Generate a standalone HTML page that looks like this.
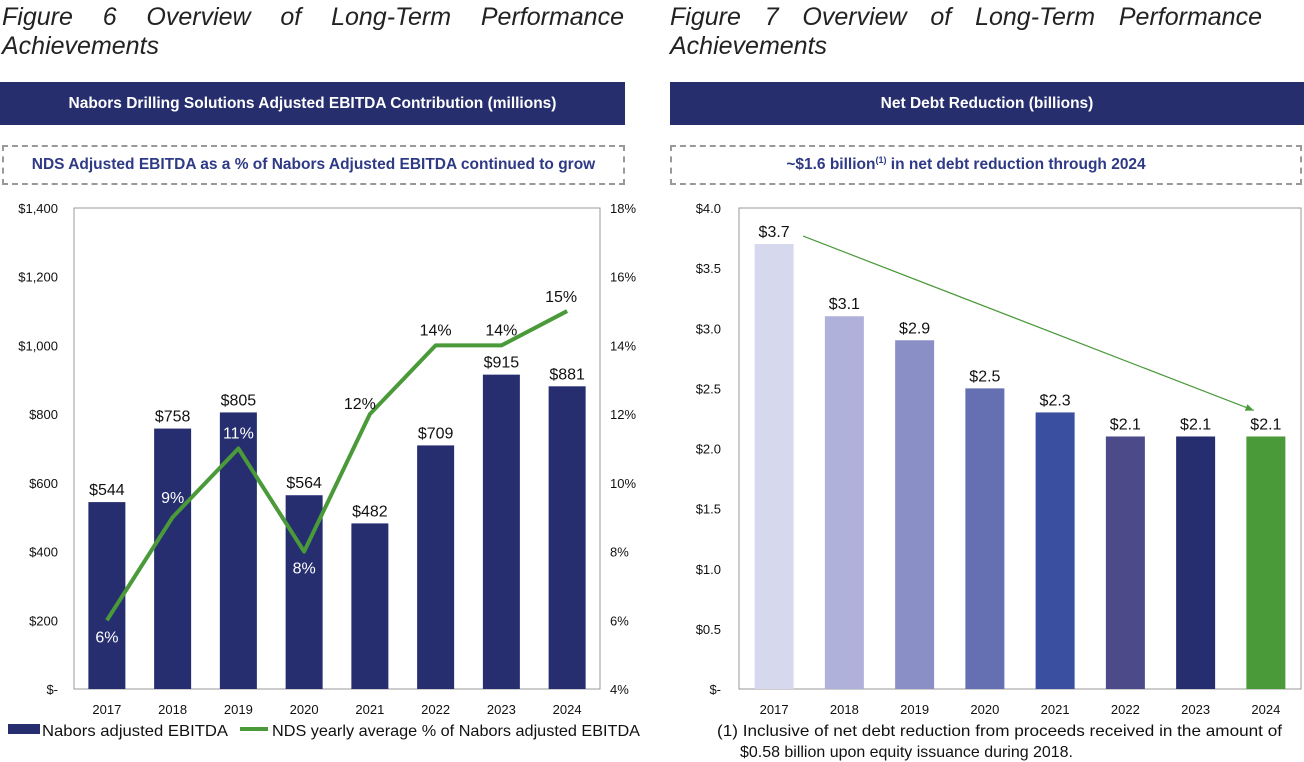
<!DOCTYPE html>
<html><head><meta charset="utf-8"><style>
body{margin:0;width:1304px;height:762px;background:#fff;font-family:"Liberation Sans",sans-serif;overflow:hidden;position:relative}
.title{position:absolute;font-style:italic;font-size:25px;color:#222;line-height:29px}
.l1{display:flex;justify-content:space-between}
.hdr{position:absolute;top:82px;height:43px;background:#262e6e;color:#fff;font-weight:bold;font-size:15.5px;display:flex;align-items:center;justify-content:center}
.dash{position:absolute;top:145px;height:40px;border:2px dashed #999;box-sizing:border-box;color:#2e3a86;font-weight:bold;font-size:15.5px;display:flex;align-items:center;justify-content:center}
svg{position:absolute;left:0;top:0}
</style></head><body>
<div class="title" style="left:2px;top:3px;width:622px"><div class="l1"><span>Figure</span><span>6</span><span>Overview</span><span>of</span><span>Long-Term</span><span>Performance</span></div><div>Achievements</div></div>
<div class="title" style="left:670px;top:3px;width:592px"><div class="l1"><span>Figure</span><span>7</span><span>Overview</span><span>of</span><span>Long-Term</span><span>Performance</span></div><div>Achievements</div></div>
<div class="hdr" style="left:0;width:625px">Nabors Drilling Solutions Adjusted EBITDA Contribution (millions)</div>
<div class="hdr" style="left:670px;width:634px">Net Debt Reduction (billions)</div>
<div class="dash" style="left:2px;width:623px">NDS Adjusted EBITDA as a % of Nabors Adjusted EBITDA continued to grow</div>
<div class="dash" style="left:670px;width:632px;padding-right:40px"><span>~$1.6 billion<span style="font-size:9px;position:relative;top:-6px">(1)</span> in net debt reduction through 2024</span></div>
<svg id="c" width="1304" height="762"></svg>
<script>
const years=["2017","2018","2019","2020","2021","2022","2023","2024"];
const ebitda=[544,758,805,564,482,709,915,881];
const pct=[6,9,11,8,12,14,14,15];
const leftTicks=[0,200,400,600,800,1000,1200,1400];
const leftTickLabels=["$-","$200","$400","$600","$800","$1,000","$1,200","$1,400"];
const pctTicks=[4,6,8,10,12,14,16,18];
const debt=[3.7,3.1,2.9,2.5,2.3,2.1,2.1,2.1];
const debtTicks=[0,0.5,1,1.5,2,2.5,3,3.5,4];
const debtTickLabels=["$-","$0.5","$1.0","$1.5","$2.0","$2.5","$3.0","$3.5","$4.0"];
const debtColors=["#d6d8ee","#b0b1da","#8a90c6","#6470b2","#3b4fa0","#4d4a8a","#262e70","#4a9a3a"];
const NS="http://www.w3.org/2000/svg",svg=document.getElementById('c');
function mk(t,a,txt){const e=document.createElementNS(NS,t);for(const k in a)e.setAttribute(k,a[k]);if(txt!==undefined)e.textContent=txt;svg.appendChild(e);return e;}
const T=208,B=689;
const L0=74,L1=600,cw=(L1-L0)/8;
const xL=i=>L0+cw*(i+0.5), yL=v=>B-(v/1400)*(B-T), yP=p=>B-((p-4)/14)*(B-T);
let e=mk('rect',{x:L0,y:T,width:L1-L0,height:B-T,fill:'none',stroke:'#999','stroke-width':1});

leftTicks.forEach((v,i)=>{e=mk('text',{x:L0-16,y:yL(v)+5,'text-anchor':'end','font-size':13,fill:'#111'},leftTickLabels[i]);
});
pctTicks.forEach(p=>{e=mk('text',{x:L1+10,y:yP(p)+5,'font-size':13,fill:'#111'},p+'%');
});
ebitda.forEach((v,i)=>{e=mk('rect',{x:xL(i)-18.5,y:yL(v),width:37,height:B-yL(v),fill:'#262e70'});

e=mk('text',{x:xL(i),y:yL(v)-7,'text-anchor':'middle','font-size':16,fill:'#111'},'$'+v);

e=mk('text',{x:xL(i),y:B+25,'text-anchor':'middle','font-size':13,fill:'#111'},years[i]);
});
e=mk('polyline',{points:pct.map((p,i)=>xL(i)+','+yP(p)).join(' '),fill:'none',stroke:'#4a9a3a','stroke-width':4,'stroke-linejoin':'round'});

const pOff=[[0,22,'#fff'],[0,-14,'#fff'],[0,-10,'#fff'],[0,22,'#fff'],[-10,-5,'#111'],[0,-10,'#111'],[0,-10,'#111'],[-6,-9,'#111']];
pct.forEach((p,i)=>{const o=pOff[i];
e=mk('text',{x:xL(i)+o[0],y:yP(p)+o[1],'text-anchor':'middle','font-size':16,fill:o[2]},p+'%');
});
e=mk('rect',{x:8,y:724,width:32,height:10,fill:'#262e70'});
e=mk('text',{x:42,y:736,'font-size':16,fill:'#111',textLength:186,lengthAdjust:'spacingAndGlyphs'},'Nabors adjusted EBITDA');
e=mk('line',{x1:240,y1:729,x2:268,y2:729,stroke:'#4a9a3a','stroke-width':4});
e=mk('text',{x:272,y:736,'font-size':16,fill:'#111',textLength:368,lengthAdjust:'spacingAndGlyphs'},'NDS yearly average % of Nabors adjusted EBITDA');
const R0=739,R1=1301,rw=(R1-R0)/8;
const xR=i=>R0+rw*(i+0.5), yR=v=>B-(v/4)*(B-T);
e=mk('rect',{x:R0,y:T,width:R1-R0,height:B-T,fill:'none',stroke:'#999','stroke-width':1});

debtTicks.forEach((v,i)=>{e=mk('text',{x:R0-18,y:yR(v)+5,'text-anchor':'end','font-size':13,fill:'#111'},debtTickLabels[i]);
});
debt.forEach((v,i)=>{e=mk('rect',{x:xR(i)-19.5,y:yR(v),width:39,height:B-yR(v),fill:debtColors[i]});

e=mk('text',{x:xR(i),y:yR(v)-7,'text-anchor':'middle','font-size':16,fill:'#111'},'$'+v.toFixed(1));

e=mk('text',{x:xR(i),y:B+25,'text-anchor':'middle','font-size':13,fill:'#111'},years[i]);
});
const ax1=xR(0)+29,ay1=yR(debt[0])-8,ax2=xR(7)-12,ay2=yR(debt[7])-26;
e=mk('line',{x1:ax1,y1:ay1,x2:ax2,y2:ay2,stroke:'#4a9a3a','stroke-width':1.2});

const ang=Math.atan2(ay2-ay1,ax2-ax1),hl=9;
e=mk('polygon',{points:`${ax2},${ay2} ${ax2-hl*Math.cos(ang-0.4)},${ay2-hl*Math.sin(ang-0.4)} ${ax2-hl*Math.cos(ang+0.4)},${ay2-hl*Math.sin(ang+0.4)}`,fill:'#4a9a3a'});

e=mk('text',{x:717,y:736,'font-size':16,fill:'#111',textLength:565,lengthAdjust:'spacingAndGlyphs'},'(1) Inclusive of net debt reduction from proceeds received in the amount of');

e=mk('text',{x:740,y:757,'font-size':16,fill:'#111',textLength:333,lengthAdjust:'spacingAndGlyphs'},'$0.58 billion upon equity issuance during 2018.');

</script>
</body></html>
